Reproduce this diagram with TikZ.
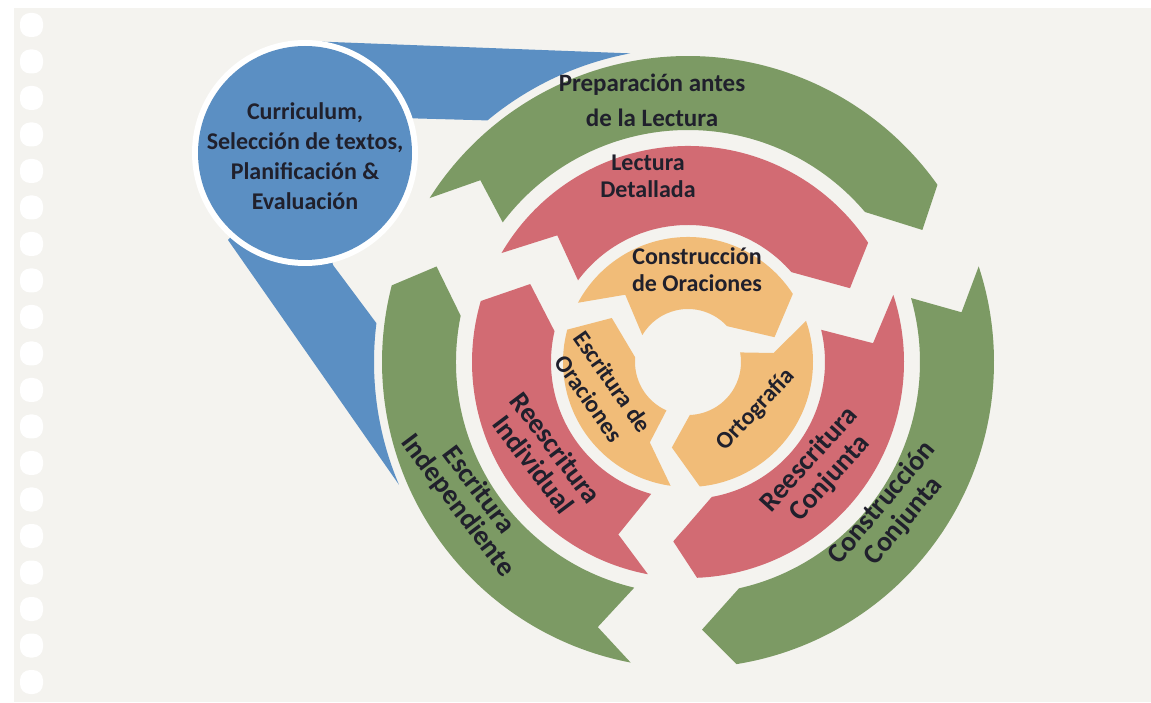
\documentclass[tikz,border=0pt]{standalone}
\usepackage{fontspec}
\setmainfont{Carlito}
\definecolor{paper}{HTML}{F4F3EF}
\definecolor{cblue}{HTML}{5B8FC3}
\definecolor{cgreen}{HTML}{7C9A64}
\definecolor{cred}{HTML}{D26B73}
\definecolor{corange}{HTML}{F1BC78}
\definecolor{ctext}{HTML}{20202C}
\begin{document}
\begin{tikzpicture}[x=0.5pt,y=0.5pt,
  lbl/.style={text=ctext, align=center, inner sep=0pt},
  fA/.style={font=\bfseries\fontsize{12.5pt}{17.5pt}\selectfont},
  fB/.style={font=\bfseries\fontsize{12pt}{15pt}\selectfont},
  fC/.style={font=\bfseries\fontsize{12pt}{13.5pt}\selectfont},
  fD/.style={font=\bfseries\fontsize{12pt}{14.5pt}\selectfont},
  fE/.style={font=\bfseries\fontsize{14pt}{14pt}\selectfont}]
\useasboundingbox (0,0) rectangle (1151,702);
% paper
\fill[white] (0,0) rectangle (1151,702);
\fill[paper] (14,0) rectangle (1151,694);
\foreach \i in {0,...,18}
  \fill[white, rounded corners=5pt] (20,{702-13-36.5*\i}) rectangle (43,{702-37-36.5*\i});
% blue wedges
\begin{scope}[shift={(688,340)}]
  \fill[cblue] (-383,209) -- (-383,321) -- (100.6:314) arc[start angle=100.6,end angle=129.7,radius=314] -- (-288,244) -- cycle;
  \fill[cblue] (-383,209) -- (-460,122) -- (203:314) arc[start angle=203,end angle=172.9,radius=314] -- (-355,97) -- cycle;
\end{scope}
\fill[white] (305,549) circle[radius=113];
\node[circle, fill=cblue, minimum size=107pt, inner sep=0pt] (cur) at (305,549) {};
\node[lbl, fB] (curtext) at (305,546) {Curriculum,\\Selección de textos,\\Planificación \&\\Evaluación};
% rings
\begin{scope}[shift={(688,340)}]
  % green
  \fill[cgreen] (147.6:306) arc[start angle=147.6,end angle=35.4,radius=306] -- (29.4:269) -- (40.3:232) arc[start angle=40.3,end angle=143,radius=232] -- (138.8:276) -- cycle;
  \fill[cgreen] (18.2:306) arc[start angle=18.2,end angle=-80.9,radius=306] -- (-87:268) -- (-77.3:232) arc[start angle=-77.3,end angle=16,radius=232] -- (10.3:278) -- cycle;
  \fill[cgreen] (-100.8:306) arc[start angle=-100.8,end angle=-194.5,radius=306] -- (-200.8:269) -- (-191.5:232) arc[start angle=-191.5,end angle=-103.4,radius=232] -- (-108.8:280) -- cycle;
  % red
  \fill[cred] (149.7:216) arc[start angle=149.7,end angle=33.5,radius=216] -- (24.5:178) -- (41:137) arc[start angle=41,end angle=143.4,radius=137] -- (135.9:182) -- cycle;
  \fill[cred] (18.1:216) arc[start angle=18.1,end angle=-87.6,radius=216] -- (-94.7:180) -- (-80:137) arc[start angle=-80,end angle=13.6,radius=137] -- (5.8:186) -- cycle;
  \fill[cred] (-100.7:216) arc[start angle=-100.7,end angle=-196.4,radius=216] -- (-206.3:176) -- (-193:137) arc[start angle=-193,end angle=-105.6,radius=137] -- (-112:186) -- cycle;
  % orange
  \fill[corange] (151.7:125) arc[start angle=151.7,end angle=33,radius=125] -- (16:90) -- (42.6:53) arc[start angle=42.6,end angle=149.5,radius=53] -- (133:92) -- cycle;
  \fill[corange] (19.2:125) arc[start angle=19.2,end angle=-84.6,radius=125] -- (-100.7:87) -- (-88:53) arc[start angle=-88,end angle=10.4,radius=53] -- (6:86) -- cycle;
  \fill[corange] (-98:125) arc[start angle=-98,end angle=-195,radius=125] -- (-210:88) -- (-185:53) arc[start angle=-185,end angle=-114,radius=53] -- (-115.4:89) -- cycle;
\end{scope}
% labels
\node[lbl, fA] (prep) at (652,601.5) {Preparación antes\\de la Lectura};
\node[lbl, fC] (lect) at (648,525.5) {Lectura\\Detallada};
\node[lbl, fC] (cons) at (697,432) {Construcción\\de Oraciones};
\node[lbl, fD, rotate=-55] (escor) at (601,312) {Escritura de\\Oraciones};
\node[lbl, fD, rotate=47] (orto) at (756,292) {Ortografía};
\node[lbl, fE, rotate=-53] (reind) at (545,246) {Reescritura\\Individual};
\node[lbl, fE, rotate=-53, font=\bfseries\fontsize{14pt}{13pt}\selectfont] (escind) at (468,204) {Escritura\\Independiente};
\node[lbl, fE, rotate=48] (recon) at (820,233) {Reescritura\\Conjunta};
\node[lbl, fE, rotate=50] (conscon) at (893,190) {Construcción\\Conjunta};
\end{tikzpicture}
\end{document}
